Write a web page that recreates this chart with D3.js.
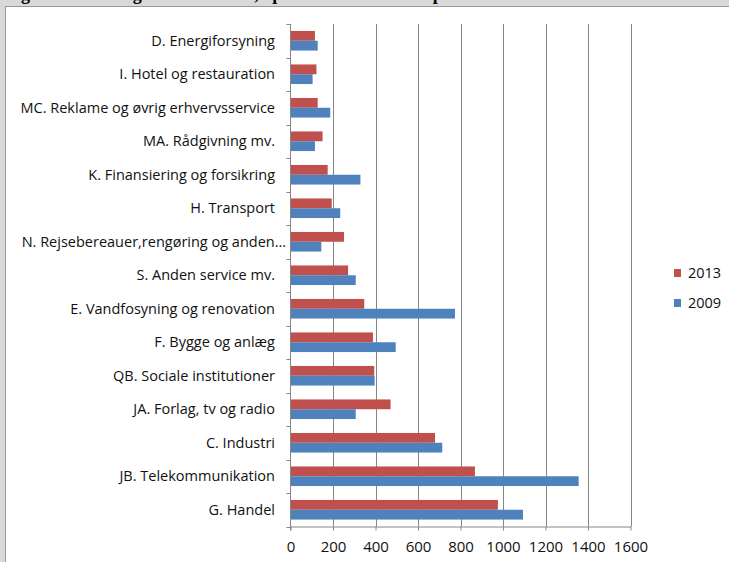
<!DOCTYPE html>
<html>
<head>
<meta charset="utf-8">
<script src="https://cdn.jsdelivr.net/npm/d3@7"></script>
<style>
  html, body { margin: 0; padding: 0; background: #fff; }
  svg { display: block; }
</style>
</head>
<body>
<svg id="chart" width="729" height="562"></svg>
<script>
// Branches, top to bottom
const categories = [
  "D. Energiforsyning",
  "I. Hotel og restauration",
  "MC. Reklame og øvrig erhvervsservice",
  "MA. Rådgivning mv.",
  "K. Finansiering og forsikring",
  "H. Transport",
  "N. Rejsebereauer,rengøring og anden…",
  "S. Anden service mv.",
  "E. Vandfosyning og renovation",
  "F. Bygge og anlæg",
  "QB. Sociale institutioner",
  "JA. Forlag, tv og radio",
  "C. Industri",
  "JB. Telekommunikation",
  "G. Handel"
];
const values2013 = [115, 122, 128, 151, 175, 194, 252, 271, 347, 388, 394, 471, 680, 868, 976];
const values2009 = [128, 104, 187, 115, 329, 234, 145, 307, 774, 495, 396, 307, 714, 1356, 1094];
const seriesNames = ["2013", "2009"];
const seriesColors = ["#C0504D", "#4F81BD"];
const xTicks = [0, 200, 400, 600, 800, 1000, 1200, 1400, 1600];
const titleText = "Figur 5: Ændring i antal ansatte, opdelt efter branche i perioden";

const svg = d3.select("#chart");
const W = 729, H = 562;
const FONT = "'Open Sans', sans-serif";

// window frame around the chart area
svg.append("rect").attr("x", 0).attr("y", 0).attr("width", W).attr("height", H).attr("fill", "#d9d9d9");
svg.append("rect").attr("x", 6).attr("y", 7).attr("width", W - 6).attr("height", H - 7).attr("fill", "#ffffff");
svg.append("line").attr("x1", 5.5).attr("x2", 5.5).attr("y1", 6).attr("y2", H).attr("stroke", "#9a9a9a");
svg.append("line").attr("x1", 5).attr("x2", W).attr("y1", 6.5).attr("y2", 6.5).attr("stroke", "#9a9a9a");

// heading text above the frame, mostly hidden
svg.append("text")
  .attr("x", 5).attr("y", 0)
  .attr("font-family", "Liberation Serif, serif")
  .attr("font-weight", "bold")
  .attr("font-size", 18)
  .attr("fill", "#000")
  .text(titleText);

const plot = { left: 290.5, right: 630.5, top: 24, bottom: 526.5 };

const x = d3.scaleLinear().domain([0, 1600]).range([plot.left, plot.right]);
const y = d3.scaleBand().domain(categories).range([plot.top, plot.bottom]).paddingInner(0).paddingOuter(0);

// vertical gridlines
svg.append("g")
  .selectAll("line")
  .data(xTicks.slice(1))
  .join("line")
  .attr("x1", d => Math.round(x(d)) + 0.5)
  .attr("x2", d => Math.round(x(d)) + 0.5)
  .attr("y1", plot.top)
  .attr("y2", plot.bottom)
  .attr("stroke", "#868686")
  .attr("stroke-width", 1);

// bars
const rows = categories.map((c, i) => ({ cat: c, vals: [values2013[i], values2009[i]] }));
const groups = svg.append("g").selectAll("g")
  .data(rows)
  .join("g")
  .attr("transform", d => `translate(0,${y(d.cat)})`);

const barH = 9.8;
const groupOffset = (y.bandwidth() - 2 * barH) / 2;
groups.selectAll("rect")
  .data(d => d.vals.map((v, k) => ({ v, k })))
  .join("rect")
  .attr("x", x(0))
  .attr("y", d => groupOffset + d.k * barH)
  .attr("width", d => x(d.v) - x(0))
  .attr("height", barH)
  .attr("fill", d => seriesColors[d.k]);

// left (category) axis
svg.append("line")
  .attr("x1", plot.left).attr("x2", plot.left)
  .attr("y1", plot.top).attr("y2", plot.bottom + 4)
  .attr("stroke", "#868686");
const catTicks = categories.map(c => y(c)).concat([plot.bottom]);
svg.append("g").selectAll("line")
  .data(catTicks)
  .join("line")
  .attr("x1", plot.left - 4).attr("x2", plot.left)
  .attr("y1", d => Math.round(d) + 0.5).attr("y2", d => Math.round(d) + 0.5)
  .attr("stroke", "#868686");

svg.append("g").selectAll("text")
  .data(categories)
  .join("text")
  .attr("x", d => d.endsWith("…") ? 286 : 275)
  .attr("y", d => y(d) + y.bandwidth() / 2)
  .attr("dy", "0.35em")
  .attr("text-anchor", "end")
  .attr("font-family", FONT)
  .attr("font-size", 14.5)
  .attr("fill", "#111")
  .text(d => d);

// bottom (value) axis
const xAxis = d3.axisBottom(x).tickValues(xTicks).tickFormat(d3.format("d"))
  .tickSize(4).tickSizeOuter(0).tickPadding(11);
const gx = svg.append("g").attr("transform", `translate(0,${plot.bottom})`).call(xAxis);
gx.select(".domain").attr("stroke", "#868686");
gx.selectAll(".tick line").attr("stroke", "#868686");
gx.selectAll(".tick text")
  .attr("font-family", FONT)
  .attr("font-size", 15)
  .attr("fill", "#111");

// legend
const legend = svg.append("g").selectAll("g")
  .data(seriesNames)
  .join("g")
  .attr("transform", (d, i) => `translate(674,${269 + i * 30})`);
legend.append("rect").attr("width", 7).attr("height", 8).attr("fill", (d, i) => seriesColors[i]);
legend.append("text")
  .attr("x", 14).attr("y", 4).attr("dy", "0.35em")
  .attr("font-family", FONT)
  .attr("font-size", 14.5)
  .attr("fill", "#111")
  .text(d => d);
</script>
</body>
</html>
